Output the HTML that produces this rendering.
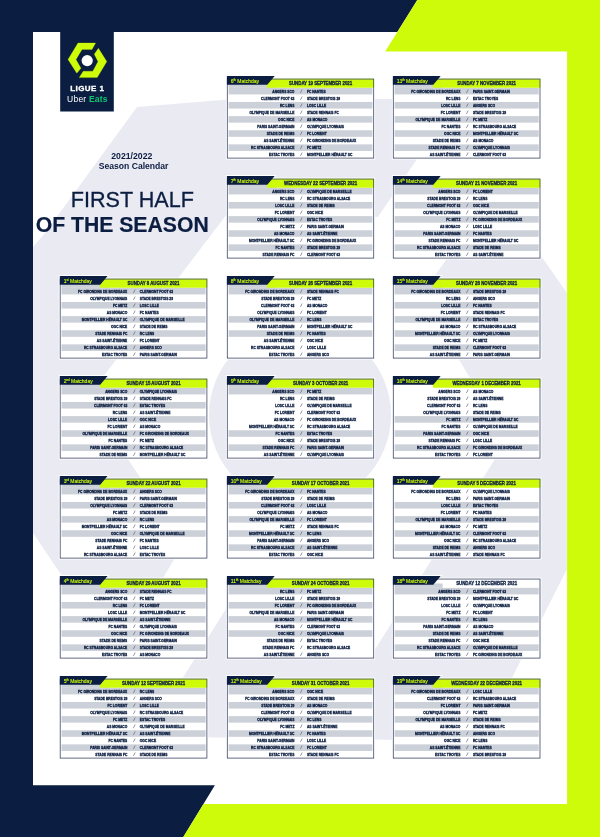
<!DOCTYPE html>
<html lang="en"><head><meta charset="utf-8"><title>Ligue 1 Uber Eats 2021/2022 Season Calendar - First half of the season</title>
<style>
html,body{margin:0;padding:0;background:#fff}
body{width:600px;height:837px;overflow:hidden}
svg{display:block}
text{font-family:"Liberation Sans",Arial,Helvetica,sans-serif}
.t{font-weight:bold;font-size:3.6px;fill:#0b1d40;stroke:#0b1d40;stroke-width:0.3px}
.s{font-size:4.6px;fill:#4d5977;stroke:#4d5977;stroke-width:0.15px;text-anchor:middle}
.d{font-weight:bold;font-size:4.7px;fill:#0b1d40;text-anchor:middle;stroke:#0b1d40;stroke-width:0.28px}
.m{font-size:5px;fill:#cefb0a;stroke:#cefb0a;stroke-width:0.12px}
.e{text-anchor:end}
.c{text-anchor:middle}
</style></head><body>
<svg width="600" height="837" viewBox="0 0 600 837">
<defs><clipPath id="panel"><rect x="32" y="31" width="535.1" height="773"/></clipPath></defs>
<rect width="600" height="837" fill="#fff"/>
<g clip-path="url(#panel)" fill="#eaeaf3">
<polygon points="137,107 225,99.7 383,99 457,99 415,162 378,217 227,214 87,398 184,543 116,656 58,570 33,533 -68,383 33,247 45,233"/>
<polygon points="494.5,189.3 648,409 480,741 146,736.5 229,604 371.5,655 507,440 421,296"/>
<circle cx="300" cy="415" r="91"/>
</g>
<polygon points="0,0 417.3,0 397.3,32.1 33,32.1 33,785.3 214.9,785.3 183.3,837 0,837" fill="#0b1d40"/>
<polygon points="417.3,0 600,0 600,837 183.3,837 203.5,804 567.1,804 567.1,51.5 385.2,51.5" fill="#cefb0a"/>
<rect x="60.2" y="31" width="53.6" height="80.5" fill="#0b1d40"/>
<polygon points="95.6,42.96 78,42.96 68,59.44 76.8,73.2 80.96,68.24 76,59.44 82,49.6 92,49.6" fill="#cefb0a" stroke="#cefb0a" stroke-width="0.25" stroke-linejoin="round"/>
<polygon points="98.4,48.24 106.8,61.6 97.2,77.6 79.2,77.6 83.2,71.2 92.8,71.2 98,61.6 94.24,54.24" fill="#cefb0a" stroke="#cefb0a" stroke-width="0.25" stroke-linejoin="round"/>
<circle cx="87.2" cy="60.6" r="5.6" fill="#fff"/>
<text x="87.3" y="91.4" class="c" style="font-weight:bold;font-size:8px;fill:#fff;stroke:#fff;stroke-width:0.3px;letter-spacing:0.4px">LIGUE 1</text>
<text x="87.4" y="102.1" class="c" style="font-size:8.5px;fill:#fff;letter-spacing:0.2px">Uber <tspan style="font-weight:bold;fill:#10c76f">Eats</tspan></text>
<text x="131.8" y="158.8" class="c" style="font-weight:bold;font-size:8.7px;fill:#0b1d40">2021/2022</text>
<text x="133.6" y="168.9" class="c" style="font-weight:bold;font-size:8.6px;fill:#0b1d40">Season Calendar</text>
<text x="132.3" y="207.2" class="c" style="font-size:21.6px;fill:#0b1d40;stroke:#0b1d40;stroke-width:0.3px">FIRST HALF</text>
<text x="122.2" y="231.6" class="c" style="font-weight:bold;font-size:21.2px;fill:#0b1d40;stroke:#0b1d40;stroke-width:0.2px">OF THE SEASON</text>
<g transform="translate(59.8,276)">
<rect x="-1" y="1.65" width="149.5" height="81.85" fill="#fff"/>
<polygon points="-1,-1 49.6,-1 46,2.65 -1,2.65" fill="#fff"/>
<rect x="0" y="2.65" width="147.5" height="79.85" fill="#fff"/>
<rect x="1.7" y="7.5" width="48" height="4.35" fill="#ccd0d8"/>
<rect x="1.7" y="11.85" width="144.1" height="6.57" fill="#ccd0d8"/>
<rect x="1.7" y="25.98" width="144.1" height="6.57" fill="#ccd0d8"/>
<rect x="1.7" y="40.11" width="144.1" height="6.57" fill="#ccd0d8"/>
<rect x="1.7" y="54.24" width="144.1" height="6.57" fill="#ccd0d8"/>
<rect x="1.7" y="68.37" width="144.1" height="6.57" fill="#ccd0d8"/>
<polygon points="40,2.65 147.5,2.65 147.5,11.85 40,11.85" fill="#cefb0a"/>
<rect x="0.4" y="3.05" width="146.7" height="79.05" fill="none" stroke="#3c4966" stroke-width="0.8"/>
<polygon points="0,0 47.8,0 40.4,8.7 0,8.7" fill="#0b1d40"/>
<text x="3.9" y="6.5" class="m">1<tspan dy="-1.6" style="font-size:2.8px">st</tspan><tspan dy="1.6"> Matchday</tspan></text>
<text transform="translate(93.7,9.15) scale(0.93,1)" class="d">SUNDAY 8 AUGUST 2021</text>
<text transform="translate(67.5,16.78) scale(0.92,1)" class="t e">FC GIRONDINS DE BORDEAUX</text>
<text transform="translate(74,16.78) skewX(-14)" class="s">/</text>
<text transform="translate(80,16.78) scale(0.92,1)" class="t">CLERMONT FOOT 63</text>
<text transform="translate(67.5,23.85) scale(0.92,1)" class="t e">OLYMPIQUE LYONNAIS</text>
<text transform="translate(74,23.85) skewX(-14)" class="s">/</text>
<text transform="translate(80,23.85) scale(0.92,1)" class="t">STADE BRESTOIS 29</text>
<text transform="translate(67.5,30.91) scale(0.92,1)" class="t e">FC METZ</text>
<text transform="translate(74,30.91) skewX(-14)" class="s">/</text>
<text transform="translate(80,30.91) scale(0.92,1)" class="t">LOSC LILLE</text>
<text transform="translate(67.5,37.98) scale(0.92,1)" class="t e">AS MONACO</text>
<text transform="translate(74,37.98) skewX(-14)" class="s">/</text>
<text transform="translate(80,37.98) scale(0.92,1)" class="t">FC NANTES</text>
<text transform="translate(67.5,45.04) scale(0.92,1)" class="t e">MONTPELLIER HÉRAULT SC</text>
<text transform="translate(74,45.04) skewX(-14)" class="s">/</text>
<text transform="translate(80,45.04) scale(0.92,1)" class="t">OLYMPIQUE DE MARSEILLE</text>
<text transform="translate(67.5,52.11) scale(0.92,1)" class="t e">OGC NICE</text>
<text transform="translate(74,52.11) skewX(-14)" class="s">/</text>
<text transform="translate(80,52.11) scale(0.92,1)" class="t">STADE DE REIMS</text>
<text transform="translate(67.5,59.17) scale(0.92,1)" class="t e">STADE RENNAIS FC</text>
<text transform="translate(74,59.17) skewX(-14)" class="s">/</text>
<text transform="translate(80,59.17) scale(0.92,1)" class="t">RC LENS</text>
<text transform="translate(67.5,66.24) scale(0.92,1)" class="t e">AS SAINT-ÉTIENNE</text>
<text transform="translate(74,66.24) skewX(-14)" class="s">/</text>
<text transform="translate(80,66.24) scale(0.92,1)" class="t">FC LORIENT</text>
<text transform="translate(67.5,73.3) scale(0.92,1)" class="t e">RC STRASBOURG ALSACE</text>
<text transform="translate(74,73.3) skewX(-14)" class="s">/</text>
<text transform="translate(80,73.3) scale(0.92,1)" class="t">ANGERS SCO</text>
<text transform="translate(67.5,80.37) scale(0.92,1)" class="t e">ESTAC TROYES</text>
<text transform="translate(74,80.37) skewX(-14)" class="s">/</text>
<text transform="translate(80,80.37) scale(0.92,1)" class="t">PARIS SAINT-GERMAIN</text>
</g>
<g transform="translate(59.8,376)">
<rect x="-1" y="1.65" width="149.5" height="81.85" fill="#fff"/>
<polygon points="-1,-1 49.6,-1 46,2.65 -1,2.65" fill="#fff"/>
<rect x="0" y="2.65" width="147.5" height="79.85" fill="#fff"/>
<rect x="1.7" y="7.5" width="48" height="4.35" fill="#ccd0d8"/>
<rect x="1.7" y="11.85" width="144.1" height="6.57" fill="#ccd0d8"/>
<rect x="1.7" y="25.98" width="144.1" height="6.57" fill="#ccd0d8"/>
<rect x="1.7" y="40.11" width="144.1" height="6.57" fill="#ccd0d8"/>
<rect x="1.7" y="54.24" width="144.1" height="6.57" fill="#ccd0d8"/>
<rect x="1.7" y="68.37" width="144.1" height="6.57" fill="#ccd0d8"/>
<polygon points="40,2.65 147.5,2.65 147.5,11.85 40,11.85" fill="#cefb0a"/>
<rect x="0.4" y="3.05" width="146.7" height="79.05" fill="none" stroke="#3c4966" stroke-width="0.8"/>
<polygon points="0,0 47.8,0 40.4,8.7 0,8.7" fill="#0b1d40"/>
<text x="3.9" y="6.5" class="m">2<tspan dy="-1.6" style="font-size:2.8px">nd</tspan><tspan dy="1.6"> Matchday</tspan></text>
<text transform="translate(93.7,9.15) scale(0.93,1)" class="d">SUNDAY 15 AUGUST 2021</text>
<text transform="translate(67.5,16.78) scale(0.92,1)" class="t e">ANGERS SCO</text>
<text transform="translate(74,16.78) skewX(-14)" class="s">/</text>
<text transform="translate(80,16.78) scale(0.92,1)" class="t">OLYMPIQUE LYONNAIS</text>
<text transform="translate(67.5,23.85) scale(0.92,1)" class="t e">STADE BRESTOIS 29</text>
<text transform="translate(74,23.85) skewX(-14)" class="s">/</text>
<text transform="translate(80,23.85) scale(0.92,1)" class="t">STADE RENNAIS FC</text>
<text transform="translate(67.5,30.91) scale(0.92,1)" class="t e">CLERMONT FOOT 63</text>
<text transform="translate(74,30.91) skewX(-14)" class="s">/</text>
<text transform="translate(80,30.91) scale(0.92,1)" class="t">ESTAC TROYES</text>
<text transform="translate(67.5,37.98) scale(0.92,1)" class="t e">RC LENS</text>
<text transform="translate(74,37.98) skewX(-14)" class="s">/</text>
<text transform="translate(80,37.98) scale(0.92,1)" class="t">AS SAINT-ÉTIENNE</text>
<text transform="translate(67.5,45.04) scale(0.92,1)" class="t e">LOSC LILLE</text>
<text transform="translate(74,45.04) skewX(-14)" class="s">/</text>
<text transform="translate(80,45.04) scale(0.92,1)" class="t">OGC NICE</text>
<text transform="translate(67.5,52.11) scale(0.92,1)" class="t e">FC LORIENT</text>
<text transform="translate(74,52.11) skewX(-14)" class="s">/</text>
<text transform="translate(80,52.11) scale(0.92,1)" class="t">AS MONACO</text>
<text transform="translate(67.5,59.17) scale(0.92,1)" class="t e">OLYMPIQUE DE MARSEILLE</text>
<text transform="translate(74,59.17) skewX(-14)" class="s">/</text>
<text transform="translate(80,59.17) scale(0.92,1)" class="t">FC GIRONDINS DE BORDEAUX</text>
<text transform="translate(67.5,66.24) scale(0.92,1)" class="t e">FC NANTES</text>
<text transform="translate(74,66.24) skewX(-14)" class="s">/</text>
<text transform="translate(80,66.24) scale(0.92,1)" class="t">FC METZ</text>
<text transform="translate(67.5,73.3) scale(0.92,1)" class="t e">PARIS SAINT-GERMAIN</text>
<text transform="translate(74,73.3) skewX(-14)" class="s">/</text>
<text transform="translate(80,73.3) scale(0.92,1)" class="t">RC STRASBOURG ALSACE</text>
<text transform="translate(67.5,80.37) scale(0.92,1)" class="t e">STADE DE REIMS</text>
<text transform="translate(74,80.37) skewX(-14)" class="s">/</text>
<text transform="translate(80,80.37) scale(0.92,1)" class="t">MONTPELLIER HÉRAULT SC</text>
</g>
<g transform="translate(59.8,476)">
<rect x="-1" y="1.65" width="149.5" height="81.85" fill="#fff"/>
<polygon points="-1,-1 49.6,-1 46,2.65 -1,2.65" fill="#fff"/>
<rect x="0" y="2.65" width="147.5" height="79.85" fill="#fff"/>
<rect x="1.7" y="7.5" width="48" height="4.35" fill="#ccd0d8"/>
<rect x="1.7" y="11.85" width="144.1" height="6.57" fill="#ccd0d8"/>
<rect x="1.7" y="25.98" width="144.1" height="6.57" fill="#ccd0d8"/>
<rect x="1.7" y="40.11" width="144.1" height="6.57" fill="#ccd0d8"/>
<rect x="1.7" y="54.24" width="144.1" height="6.57" fill="#ccd0d8"/>
<polygon points="40,2.65 147.5,2.65 147.5,11.85 40,11.85" fill="#cefb0a"/>
<rect x="0.4" y="3.05" width="146.7" height="79.05" fill="none" stroke="#3c4966" stroke-width="0.8"/>
<polygon points="0,0 47.8,0 40.4,8.7 0,8.7" fill="#0b1d40"/>
<text x="3.9" y="6.5" class="m">3<tspan dy="-1.6" style="font-size:2.8px">rd</tspan><tspan dy="1.6"> Matchday</tspan></text>
<text transform="translate(93.7,9.15) scale(0.93,1)" class="d">SUNDAY 22 AUGUST 2021</text>
<text transform="translate(67.5,16.78) scale(0.92,1)" class="t e">FC GIRONDINS DE BORDEAUX</text>
<text transform="translate(74,16.78) skewX(-14)" class="s">/</text>
<text transform="translate(80,16.78) scale(0.92,1)" class="t">ANGERS SCO</text>
<text transform="translate(67.5,23.85) scale(0.92,1)" class="t e">STADE BRESTOIS 29</text>
<text transform="translate(74,23.85) skewX(-14)" class="s">/</text>
<text transform="translate(80,23.85) scale(0.92,1)" class="t">PARIS SAINT-GERMAIN</text>
<text transform="translate(67.5,30.91) scale(0.92,1)" class="t e">OLYMPIQUE LYONNAIS</text>
<text transform="translate(74,30.91) skewX(-14)" class="s">/</text>
<text transform="translate(80,30.91) scale(0.92,1)" class="t">CLERMONT FOOT 63</text>
<text transform="translate(67.5,37.98) scale(0.92,1)" class="t e">FC METZ</text>
<text transform="translate(74,37.98) skewX(-14)" class="s">/</text>
<text transform="translate(80,37.98) scale(0.92,1)" class="t">STADE DE REIMS</text>
<text transform="translate(67.5,45.04) scale(0.92,1)" class="t e">AS MONACO</text>
<text transform="translate(74,45.04) skewX(-14)" class="s">/</text>
<text transform="translate(80,45.04) scale(0.92,1)" class="t">RC LENS</text>
<text transform="translate(67.5,52.11) scale(0.92,1)" class="t e">MONTPELLIER HÉRAULT SC</text>
<text transform="translate(74,52.11) skewX(-14)" class="s">/</text>
<text transform="translate(80,52.11) scale(0.92,1)" class="t">FC LORIENT</text>
<text transform="translate(67.5,59.17) scale(0.92,1)" class="t e">OGC NICE</text>
<text transform="translate(74,59.17) skewX(-14)" class="s">/</text>
<text transform="translate(80,59.17) scale(0.92,1)" class="t">OLYMPIQUE DE MARSEILLE</text>
<text transform="translate(67.5,66.24) scale(0.92,1)" class="t e">STADE RENNAIS FC</text>
<text transform="translate(74,66.24) skewX(-14)" class="s">/</text>
<text transform="translate(80,66.24) scale(0.92,1)" class="t">FC NANTES</text>
<text transform="translate(67.5,73.3) scale(0.92,1)" class="t e">AS SAINT-ÉTIENNE</text>
<text transform="translate(74,73.3) skewX(-14)" class="s">/</text>
<text transform="translate(80,73.3) scale(0.92,1)" class="t">LOSC LILLE</text>
<text transform="translate(67.5,80.37) scale(0.92,1)" class="t e">RC STRASBOURG ALSACE</text>
<text transform="translate(74,80.37) skewX(-14)" class="s">/</text>
<text transform="translate(80,80.37) scale(0.92,1)" class="t">ESTAC TROYES</text>
</g>
<g transform="translate(59.8,576)">
<rect x="-1" y="1.65" width="149.5" height="81.85" fill="#fff"/>
<polygon points="-1,-1 49.6,-1 46,2.65 -1,2.65" fill="#fff"/>
<rect x="0" y="2.65" width="147.5" height="79.85" fill="#fff"/>
<rect x="1.7" y="7.5" width="48" height="4.35" fill="#ccd0d8"/>
<rect x="1.7" y="11.85" width="144.1" height="6.57" fill="#ccd0d8"/>
<rect x="1.7" y="25.98" width="144.1" height="6.57" fill="#ccd0d8"/>
<rect x="1.7" y="40.11" width="144.1" height="6.57" fill="#ccd0d8"/>
<rect x="1.7" y="54.24" width="144.1" height="6.57" fill="#ccd0d8"/>
<rect x="1.7" y="68.37" width="144.1" height="6.57" fill="#ccd0d8"/>
<polygon points="40,2.65 147.5,2.65 147.5,11.85 40,11.85" fill="#cefb0a"/>
<rect x="0.4" y="3.05" width="146.7" height="79.05" fill="none" stroke="#3c4966" stroke-width="0.8"/>
<polygon points="0,0 47.8,0 40.4,8.7 0,8.7" fill="#0b1d40"/>
<text x="3.9" y="6.5" class="m">4<tspan dy="-1.6" style="font-size:2.8px">th</tspan><tspan dy="1.6"> Matchday</tspan></text>
<text transform="translate(93.7,9.15) scale(0.93,1)" class="d">SUNDAY 29 AUGUST 2021</text>
<text transform="translate(67.5,16.78) scale(0.92,1)" class="t e">ANGERS SCO</text>
<text transform="translate(74,16.78) skewX(-14)" class="s">/</text>
<text transform="translate(80,16.78) scale(0.92,1)" class="t">STADE RENNAIS FC</text>
<text transform="translate(67.5,23.85) scale(0.92,1)" class="t e">CLERMONT FOOT 63</text>
<text transform="translate(74,23.85) skewX(-14)" class="s">/</text>
<text transform="translate(80,23.85) scale(0.92,1)" class="t">FC METZ</text>
<text transform="translate(67.5,30.91) scale(0.92,1)" class="t e">RC LENS</text>
<text transform="translate(74,30.91) skewX(-14)" class="s">/</text>
<text transform="translate(80,30.91) scale(0.92,1)" class="t">FC LORIENT</text>
<text transform="translate(67.5,37.98) scale(0.92,1)" class="t e">LOSC LILLE</text>
<text transform="translate(74,37.98) skewX(-14)" class="s">/</text>
<text transform="translate(80,37.98) scale(0.92,1)" class="t">MONTPELLIER HÉRAULT SC</text>
<text transform="translate(67.5,45.04) scale(0.92,1)" class="t e">OLYMPIQUE DE MARSEILLE</text>
<text transform="translate(74,45.04) skewX(-14)" class="s">/</text>
<text transform="translate(80,45.04) scale(0.92,1)" class="t">AS SAINT-ÉTIENNE</text>
<text transform="translate(67.5,52.11) scale(0.92,1)" class="t e">FC NANTES</text>
<text transform="translate(74,52.11) skewX(-14)" class="s">/</text>
<text transform="translate(80,52.11) scale(0.92,1)" class="t">OLYMPIQUE LYONNAIS</text>
<text transform="translate(67.5,59.17) scale(0.92,1)" class="t e">OGC NICE</text>
<text transform="translate(74,59.17) skewX(-14)" class="s">/</text>
<text transform="translate(80,59.17) scale(0.92,1)" class="t">FC GIRONDINS DE BORDEAUX</text>
<text transform="translate(67.5,66.24) scale(0.92,1)" class="t e">STADE DE REIMS</text>
<text transform="translate(74,66.24) skewX(-14)" class="s">/</text>
<text transform="translate(80,66.24) scale(0.92,1)" class="t">PARIS SAINT-GERMAIN</text>
<text transform="translate(67.5,73.3) scale(0.92,1)" class="t e">RC STRASBOURG ALSACE</text>
<text transform="translate(74,73.3) skewX(-14)" class="s">/</text>
<text transform="translate(80,73.3) scale(0.92,1)" class="t">STADE BRESTOIS 29</text>
<text transform="translate(67.5,80.37) scale(0.92,1)" class="t e">ESTAC TROYES</text>
<text transform="translate(74,80.37) skewX(-14)" class="s">/</text>
<text transform="translate(80,80.37) scale(0.92,1)" class="t">AS MONACO</text>
</g>
<g transform="translate(59.8,676)">
<rect x="-1" y="1.65" width="149.5" height="81.85" fill="#fff"/>
<polygon points="-1,-1 49.6,-1 46,2.65 -1,2.65" fill="#fff"/>
<rect x="0" y="2.65" width="147.5" height="79.85" fill="#fff"/>
<rect x="1.7" y="7.5" width="48" height="4.35" fill="#ccd0d8"/>
<rect x="1.7" y="11.85" width="144.1" height="6.57" fill="#ccd0d8"/>
<rect x="1.7" y="25.98" width="144.1" height="6.57" fill="#ccd0d8"/>
<rect x="1.7" y="40.11" width="144.1" height="6.57" fill="#ccd0d8"/>
<rect x="1.7" y="54.24" width="144.1" height="6.57" fill="#ccd0d8"/>
<rect x="1.7" y="68.37" width="144.1" height="6.57" fill="#ccd0d8"/>
<polygon points="40,2.65 147.5,2.65 147.5,11.85 40,11.85" fill="#cefb0a"/>
<rect x="0.4" y="3.05" width="146.7" height="79.05" fill="none" stroke="#3c4966" stroke-width="0.8"/>
<polygon points="0,0 47.8,0 40.4,8.7 0,8.7" fill="#0b1d40"/>
<text x="3.9" y="6.5" class="m">5<tspan dy="-1.6" style="font-size:2.8px">th</tspan><tspan dy="1.6"> Matchday</tspan></text>
<text transform="translate(93.7,9.15) scale(0.93,1)" class="d">SUNDAY 12 SEPTEMBER 2021</text>
<text transform="translate(67.5,16.78) scale(0.92,1)" class="t e">FC GIRONDINS DE BORDEAUX</text>
<text transform="translate(74,16.78) skewX(-14)" class="s">/</text>
<text transform="translate(80,16.78) scale(0.92,1)" class="t">RC LENS</text>
<text transform="translate(67.5,23.85) scale(0.92,1)" class="t e">STADE BRESTOIS 29</text>
<text transform="translate(74,23.85) skewX(-14)" class="s">/</text>
<text transform="translate(80,23.85) scale(0.92,1)" class="t">ANGERS SCO</text>
<text transform="translate(67.5,30.91) scale(0.92,1)" class="t e">FC LORIENT</text>
<text transform="translate(74,30.91) skewX(-14)" class="s">/</text>
<text transform="translate(80,30.91) scale(0.92,1)" class="t">LOSC LILLE</text>
<text transform="translate(67.5,37.98) scale(0.92,1)" class="t e">OLYMPIQUE LYONNAIS</text>
<text transform="translate(74,37.98) skewX(-14)" class="s">/</text>
<text transform="translate(80,37.98) scale(0.92,1)" class="t">RC STRASBOURG ALSACE</text>
<text transform="translate(67.5,45.04) scale(0.92,1)" class="t e">FC METZ</text>
<text transform="translate(74,45.04) skewX(-14)" class="s">/</text>
<text transform="translate(80,45.04) scale(0.92,1)" class="t">ESTAC TROYES</text>
<text transform="translate(67.5,52.11) scale(0.92,1)" class="t e">AS MONACO</text>
<text transform="translate(74,52.11) skewX(-14)" class="s">/</text>
<text transform="translate(80,52.11) scale(0.92,1)" class="t">OLYMPIQUE DE MARSEILLE</text>
<text transform="translate(67.5,59.17) scale(0.92,1)" class="t e">MONTPELLIER HÉRAULT SC</text>
<text transform="translate(74,59.17) skewX(-14)" class="s">/</text>
<text transform="translate(80,59.17) scale(0.92,1)" class="t">AS SAINT-ÉTIENNE</text>
<text transform="translate(67.5,66.24) scale(0.92,1)" class="t e">FC NANTES</text>
<text transform="translate(74,66.24) skewX(-14)" class="s">/</text>
<text transform="translate(80,66.24) scale(0.92,1)" class="t">OGC NICE</text>
<text transform="translate(67.5,73.3) scale(0.92,1)" class="t e">PARIS SAINT-GERMAIN</text>
<text transform="translate(74,73.3) skewX(-14)" class="s">/</text>
<text transform="translate(80,73.3) scale(0.92,1)" class="t">CLERMONT FOOT 63</text>
<text transform="translate(67.5,80.37) scale(0.92,1)" class="t e">STADE RENNAIS FC</text>
<text transform="translate(74,80.37) skewX(-14)" class="s">/</text>
<text transform="translate(80,80.37) scale(0.92,1)" class="t">STADE DE REIMS</text>
</g>
<g transform="translate(226.9,76)">
<rect x="-1" y="1.65" width="149.2" height="81.85" fill="#fff"/>
<polygon points="-1,-1 49.6,-1 46,2.65 -1,2.65" fill="#fff"/>
<rect x="0" y="2.65" width="147.2" height="79.85" fill="#fff"/>
<rect x="1.7" y="7.5" width="48" height="4.35" fill="#ccd0d8"/>
<rect x="1.7" y="11.85" width="143.8" height="6.57" fill="#ccd0d8"/>
<rect x="1.7" y="25.98" width="143.8" height="6.57" fill="#ccd0d8"/>
<rect x="1.7" y="40.11" width="143.8" height="6.57" fill="#ccd0d8"/>
<rect x="1.7" y="54.24" width="143.8" height="6.57" fill="#ccd0d8"/>
<rect x="1.7" y="68.37" width="143.8" height="6.57" fill="#ccd0d8"/>
<polygon points="40,2.65 147.2,2.65 147.2,11.85 40,11.85" fill="#cefb0a"/>
<rect x="0.4" y="3.05" width="146.4" height="79.05" fill="none" stroke="#3c4966" stroke-width="0.8"/>
<polygon points="0,0 47.8,0 40.4,8.7 0,8.7" fill="#0b1d40"/>
<text x="3.9" y="6.5" class="m">6<tspan dy="-1.6" style="font-size:2.8px">th</tspan><tspan dy="1.6"> Matchday</tspan></text>
<text transform="translate(93.7,9.15) scale(0.93,1)" class="d">SUNDAY 19 SEPTEMBER 2021</text>
<text transform="translate(67.5,16.78) scale(0.92,1)" class="t e">ANGERS SCO</text>
<text transform="translate(74,16.78) skewX(-14)" class="s">/</text>
<text transform="translate(80,16.78) scale(0.92,1)" class="t">FC NANTES</text>
<text transform="translate(67.5,23.85) scale(0.92,1)" class="t e">CLERMONT FOOT 63</text>
<text transform="translate(74,23.85) skewX(-14)" class="s">/</text>
<text transform="translate(80,23.85) scale(0.92,1)" class="t">STADE BRESTOIS 29</text>
<text transform="translate(67.5,30.91) scale(0.92,1)" class="t e">RC LENS</text>
<text transform="translate(74,30.91) skewX(-14)" class="s">/</text>
<text transform="translate(80,30.91) scale(0.92,1)" class="t">LOSC LILLE</text>
<text transform="translate(67.5,37.98) scale(0.92,1)" class="t e">OLYMPIQUE DE MARSEILLE</text>
<text transform="translate(74,37.98) skewX(-14)" class="s">/</text>
<text transform="translate(80,37.98) scale(0.92,1)" class="t">STADE RENNAIS FC</text>
<text transform="translate(67.5,45.04) scale(0.92,1)" class="t e">OGC NICE</text>
<text transform="translate(74,45.04) skewX(-14)" class="s">/</text>
<text transform="translate(80,45.04) scale(0.92,1)" class="t">AS MONACO</text>
<text transform="translate(67.5,52.11) scale(0.92,1)" class="t e">PARIS SAINT-GERMAIN</text>
<text transform="translate(74,52.11) skewX(-14)" class="s">/</text>
<text transform="translate(80,52.11) scale(0.92,1)" class="t">OLYMPIQUE LYONNAIS</text>
<text transform="translate(67.5,59.17) scale(0.92,1)" class="t e">STADE DE REIMS</text>
<text transform="translate(74,59.17) skewX(-14)" class="s">/</text>
<text transform="translate(80,59.17) scale(0.92,1)" class="t">FC LORIENT</text>
<text transform="translate(67.5,66.24) scale(0.92,1)" class="t e">AS SAINT-ÉTIENNE</text>
<text transform="translate(74,66.24) skewX(-14)" class="s">/</text>
<text transform="translate(80,66.24) scale(0.92,1)" class="t">FC GIRONDINS DE BORDEAUX</text>
<text transform="translate(67.5,73.3) scale(0.92,1)" class="t e">RC STRASBOURG ALSACE</text>
<text transform="translate(74,73.3) skewX(-14)" class="s">/</text>
<text transform="translate(80,73.3) scale(0.92,1)" class="t">FC METZ</text>
<text transform="translate(67.5,80.37) scale(0.92,1)" class="t e">ESTAC TROYES</text>
<text transform="translate(74,80.37) skewX(-14)" class="s">/</text>
<text transform="translate(80,80.37) scale(0.92,1)" class="t">MONTPELLIER HÉRAULT SC</text>
</g>
<g transform="translate(226.9,176)">
<rect x="-1" y="1.65" width="149.2" height="81.85" fill="#fff"/>
<polygon points="-1,-1 49.6,-1 46,2.65 -1,2.65" fill="#fff"/>
<rect x="0" y="2.65" width="147.2" height="79.85" fill="#fff"/>
<rect x="1.7" y="7.5" width="48" height="4.35" fill="#ccd0d8"/>
<rect x="1.7" y="11.85" width="143.8" height="6.57" fill="#ccd0d8"/>
<rect x="1.7" y="25.98" width="143.8" height="6.57" fill="#ccd0d8"/>
<rect x="1.7" y="40.11" width="143.8" height="6.57" fill="#ccd0d8"/>
<rect x="1.7" y="54.24" width="143.8" height="6.57" fill="#ccd0d8"/>
<rect x="1.7" y="68.37" width="143.8" height="6.57" fill="#ccd0d8"/>
<polygon points="40,2.65 147.2,2.65 147.2,11.85 40,11.85" fill="#cefb0a"/>
<rect x="0.4" y="3.05" width="146.4" height="79.05" fill="none" stroke="#3c4966" stroke-width="0.8"/>
<polygon points="0,0 47.8,0 40.4,8.7 0,8.7" fill="#0b1d40"/>
<text x="3.9" y="6.5" class="m">7<tspan dy="-1.6" style="font-size:2.8px">th</tspan><tspan dy="1.6"> Matchday</tspan></text>
<text transform="translate(93.7,9.15) scale(0.93,1)" class="d">WEDNESDAY 22 SEPTEMBER 2021</text>
<text transform="translate(67.5,16.78) scale(0.92,1)" class="t e">ANGERS SCO</text>
<text transform="translate(74,16.78) skewX(-14)" class="s">/</text>
<text transform="translate(80,16.78) scale(0.92,1)" class="t">OLYMPIQUE DE MARSEILLE</text>
<text transform="translate(67.5,23.85) scale(0.92,1)" class="t e">RC LENS</text>
<text transform="translate(74,23.85) skewX(-14)" class="s">/</text>
<text transform="translate(80,23.85) scale(0.92,1)" class="t">RC STRASBOURG ALSACE</text>
<text transform="translate(67.5,30.91) scale(0.92,1)" class="t e">LOSC LILLE</text>
<text transform="translate(74,30.91) skewX(-14)" class="s">/</text>
<text transform="translate(80,30.91) scale(0.92,1)" class="t">STADE DE REIMS</text>
<text transform="translate(67.5,37.98) scale(0.92,1)" class="t e">FC LORIENT</text>
<text transform="translate(74,37.98) skewX(-14)" class="s">/</text>
<text transform="translate(80,37.98) scale(0.92,1)" class="t">OGC NICE</text>
<text transform="translate(67.5,45.04) scale(0.92,1)" class="t e">OLYMPIQUE LYONNAIS</text>
<text transform="translate(74,45.04) skewX(-14)" class="s">/</text>
<text transform="translate(80,45.04) scale(0.92,1)" class="t">ESTAC TROYES</text>
<text transform="translate(67.5,52.11) scale(0.92,1)" class="t e">FC METZ</text>
<text transform="translate(74,52.11) skewX(-14)" class="s">/</text>
<text transform="translate(80,52.11) scale(0.92,1)" class="t">PARIS SAINT-GERMAIN</text>
<text transform="translate(67.5,59.17) scale(0.92,1)" class="t e">AS MONACO</text>
<text transform="translate(74,59.17) skewX(-14)" class="s">/</text>
<text transform="translate(80,59.17) scale(0.92,1)" class="t">AS SAINT-ÉTIENNE</text>
<text transform="translate(67.5,66.24) scale(0.92,1)" class="t e">MONTPELLIER HÉRAULT SC</text>
<text transform="translate(74,66.24) skewX(-14)" class="s">/</text>
<text transform="translate(80,66.24) scale(0.92,1)" class="t">FC GIRONDINS DE BORDEAUX</text>
<text transform="translate(67.5,73.3) scale(0.92,1)" class="t e">FC NANTES</text>
<text transform="translate(74,73.3) skewX(-14)" class="s">/</text>
<text transform="translate(80,73.3) scale(0.92,1)" class="t">STADE BRESTOIS 29</text>
<text transform="translate(67.5,80.37) scale(0.92,1)" class="t e">STADE RENNAIS FC</text>
<text transform="translate(74,80.37) skewX(-14)" class="s">/</text>
<text transform="translate(80,80.37) scale(0.92,1)" class="t">CLERMONT FOOT 63</text>
</g>
<g transform="translate(226.9,276)">
<rect x="-1" y="1.65" width="149.2" height="81.85" fill="#fff"/>
<polygon points="-1,-1 49.6,-1 46,2.65 -1,2.65" fill="#fff"/>
<rect x="0" y="2.65" width="147.2" height="79.85" fill="#fff"/>
<rect x="1.7" y="7.5" width="48" height="4.35" fill="#ccd0d8"/>
<rect x="1.7" y="11.85" width="143.8" height="6.57" fill="#ccd0d8"/>
<rect x="1.7" y="40.11" width="143.8" height="6.57" fill="#ccd0d8"/>
<rect x="1.7" y="54.24" width="143.8" height="6.57" fill="#ccd0d8"/>
<polygon points="40,2.65 147.2,2.65 147.2,11.85 40,11.85" fill="#cefb0a"/>
<rect x="0.4" y="3.05" width="146.4" height="79.05" fill="none" stroke="#3c4966" stroke-width="0.8"/>
<polygon points="0,0 47.8,0 40.4,8.7 0,8.7" fill="#0b1d40"/>
<text x="3.9" y="6.5" class="m">8<tspan dy="-1.6" style="font-size:2.8px">th</tspan><tspan dy="1.6"> Matchday</tspan></text>
<text transform="translate(93.7,9.15) scale(0.93,1)" class="d">SUNDAY 26 SEPTEMBER 2021</text>
<text transform="translate(67.5,16.78) scale(0.92,1)" class="t e">FC GIRONDINS DE BORDEAUX</text>
<text transform="translate(74,16.78) skewX(-14)" class="s">/</text>
<text transform="translate(80,16.78) scale(0.92,1)" class="t">STADE RENNAIS FC</text>
<text transform="translate(67.5,23.85) scale(0.92,1)" class="t e">STADE BRESTOIS 29</text>
<text transform="translate(74,23.85) skewX(-14)" class="s">/</text>
<text transform="translate(80,23.85) scale(0.92,1)" class="t">FC METZ</text>
<text transform="translate(67.5,30.91) scale(0.92,1)" class="t e">CLERMONT FOOT 63</text>
<text transform="translate(74,30.91) skewX(-14)" class="s">/</text>
<text transform="translate(80,30.91) scale(0.92,1)" class="t">AS MONACO</text>
<text transform="translate(67.5,37.98) scale(0.92,1)" class="t e">OLYMPIQUE LYONNAIS</text>
<text transform="translate(74,37.98) skewX(-14)" class="s">/</text>
<text transform="translate(80,37.98) scale(0.92,1)" class="t">FC LORIENT</text>
<text transform="translate(67.5,45.04) scale(0.92,1)" class="t e">OLYMPIQUE DE MARSEILLE</text>
<text transform="translate(74,45.04) skewX(-14)" class="s">/</text>
<text transform="translate(80,45.04) scale(0.92,1)" class="t">RC LENS</text>
<text transform="translate(67.5,52.11) scale(0.92,1)" class="t e">PARIS SAINT-GERMAIN</text>
<text transform="translate(74,52.11) skewX(-14)" class="s">/</text>
<text transform="translate(80,52.11) scale(0.92,1)" class="t">MONTPELLIER HÉRAULT SC</text>
<text transform="translate(67.5,59.17) scale(0.92,1)" class="t e">STADE DE REIMS</text>
<text transform="translate(74,59.17) skewX(-14)" class="s">/</text>
<text transform="translate(80,59.17) scale(0.92,1)" class="t">FC NANTES</text>
<text transform="translate(67.5,66.24) scale(0.92,1)" class="t e">AS SAINT-ÉTIENNE</text>
<text transform="translate(74,66.24) skewX(-14)" class="s">/</text>
<text transform="translate(80,66.24) scale(0.92,1)" class="t">OGC NICE</text>
<text transform="translate(67.5,73.3) scale(0.92,1)" class="t e">RC STRASBOURG ALSACE</text>
<text transform="translate(74,73.3) skewX(-14)" class="s">/</text>
<text transform="translate(80,73.3) scale(0.92,1)" class="t">LOSC LILLE</text>
<text transform="translate(67.5,80.37) scale(0.92,1)" class="t e">ESTAC TROYES</text>
<text transform="translate(74,80.37) skewX(-14)" class="s">/</text>
<text transform="translate(80,80.37) scale(0.92,1)" class="t">ANGERS SCO</text>
</g>
<g transform="translate(226.9,376)">
<rect x="-1" y="1.65" width="149.2" height="81.85" fill="#fff"/>
<polygon points="-1,-1 49.6,-1 46,2.65 -1,2.65" fill="#fff"/>
<rect x="0" y="2.65" width="147.2" height="79.85" fill="#fff"/>
<rect x="1.7" y="7.5" width="48" height="4.35" fill="#ccd0d8"/>
<rect x="1.7" y="11.85" width="143.8" height="6.57" fill="#ccd0d8"/>
<rect x="1.7" y="54.24" width="143.8" height="6.57" fill="#ccd0d8"/>
<rect x="1.7" y="68.37" width="143.8" height="6.57" fill="#ccd0d8"/>
<polygon points="40,2.65 147.2,2.65 147.2,11.85 40,11.85" fill="#cefb0a"/>
<rect x="0.4" y="3.05" width="146.4" height="79.05" fill="none" stroke="#3c4966" stroke-width="0.8"/>
<polygon points="0,0 47.8,0 40.4,8.7 0,8.7" fill="#0b1d40"/>
<text x="3.9" y="6.5" class="m">9<tspan dy="-1.6" style="font-size:2.8px">th</tspan><tspan dy="1.6"> Matchday</tspan></text>
<text transform="translate(93.7,9.15) scale(0.93,1)" class="d">SUNDAY 3 OCTOBER 2021</text>
<text transform="translate(67.5,16.78) scale(0.92,1)" class="t e">ANGERS SCO</text>
<text transform="translate(74,16.78) skewX(-14)" class="s">/</text>
<text transform="translate(80,16.78) scale(0.92,1)" class="t">FC METZ</text>
<text transform="translate(67.5,23.85) scale(0.92,1)" class="t e">RC LENS</text>
<text transform="translate(74,23.85) skewX(-14)" class="s">/</text>
<text transform="translate(80,23.85) scale(0.92,1)" class="t">STADE DE REIMS</text>
<text transform="translate(67.5,30.91) scale(0.92,1)" class="t e">LOSC LILLE</text>
<text transform="translate(74,30.91) skewX(-14)" class="s">/</text>
<text transform="translate(80,30.91) scale(0.92,1)" class="t">OLYMPIQUE DE MARSEILLE</text>
<text transform="translate(67.5,37.98) scale(0.92,1)" class="t e">FC LORIENT</text>
<text transform="translate(74,37.98) skewX(-14)" class="s">/</text>
<text transform="translate(80,37.98) scale(0.92,1)" class="t">CLERMONT FOOT 63</text>
<text transform="translate(67.5,45.04) scale(0.92,1)" class="t e">AS MONACO</text>
<text transform="translate(74,45.04) skewX(-14)" class="s">/</text>
<text transform="translate(80,45.04) scale(0.92,1)" class="t">FC GIRONDINS DE BORDEAUX</text>
<text transform="translate(67.5,52.11) scale(0.92,1)" class="t e">MONTPELLIER HÉRAULT SC</text>
<text transform="translate(74,52.11) skewX(-14)" class="s">/</text>
<text transform="translate(80,52.11) scale(0.92,1)" class="t">RC STRASBOURG ALSACE</text>
<text transform="translate(67.5,59.17) scale(0.92,1)" class="t e">FC NANTES</text>
<text transform="translate(74,59.17) skewX(-14)" class="s">/</text>
<text transform="translate(80,59.17) scale(0.92,1)" class="t">ESTAC TROYES</text>
<text transform="translate(67.5,66.24) scale(0.92,1)" class="t e">OGC NICE</text>
<text transform="translate(74,66.24) skewX(-14)" class="s">/</text>
<text transform="translate(80,66.24) scale(0.92,1)" class="t">STADE BRESTOIS 29</text>
<text transform="translate(67.5,73.3) scale(0.92,1)" class="t e">STADE RENNAIS FC</text>
<text transform="translate(74,73.3) skewX(-14)" class="s">/</text>
<text transform="translate(80,73.3) scale(0.92,1)" class="t">PARIS SAINT-GERMAIN</text>
<text transform="translate(67.5,80.37) scale(0.92,1)" class="t e">AS SAINT-ÉTIENNE</text>
<text transform="translate(74,80.37) skewX(-14)" class="s">/</text>
<text transform="translate(80,80.37) scale(0.92,1)" class="t">OLYMPIQUE LYONNAIS</text>
</g>
<g transform="translate(226.9,476)">
<rect x="-1" y="1.65" width="149.2" height="81.85" fill="#fff"/>
<polygon points="-1,-1 49.6,-1 46,2.65 -1,2.65" fill="#fff"/>
<rect x="0" y="2.65" width="147.2" height="79.85" fill="#fff"/>
<rect x="1.7" y="7.5" width="48" height="4.35" fill="#ccd0d8"/>
<rect x="1.7" y="11.85" width="143.8" height="6.57" fill="#ccd0d8"/>
<rect x="1.7" y="25.98" width="143.8" height="6.57" fill="#ccd0d8"/>
<rect x="1.7" y="40.11" width="143.8" height="6.57" fill="#ccd0d8"/>
<rect x="1.7" y="54.24" width="143.8" height="6.57" fill="#ccd0d8"/>
<rect x="1.7" y="68.37" width="143.8" height="6.57" fill="#ccd0d8"/>
<polygon points="40,2.65 147.2,2.65 147.2,11.85 40,11.85" fill="#cefb0a"/>
<rect x="0.4" y="3.05" width="146.4" height="79.05" fill="none" stroke="#3c4966" stroke-width="0.8"/>
<polygon points="0,0 47.8,0 40.4,8.7 0,8.7" fill="#0b1d40"/>
<text x="3.9" y="6.5" class="m">10<tspan dy="-1.6" style="font-size:2.8px">th</tspan><tspan dy="1.6"> Matchday</tspan></text>
<text transform="translate(93.7,9.15) scale(0.93,1)" class="d">SUNDAY 17 OCTOBER 2021</text>
<text transform="translate(67.5,16.78) scale(0.92,1)" class="t e">FC GIRONDINS DE BORDEAUX</text>
<text transform="translate(74,16.78) skewX(-14)" class="s">/</text>
<text transform="translate(80,16.78) scale(0.92,1)" class="t">FC NANTES</text>
<text transform="translate(67.5,23.85) scale(0.92,1)" class="t e">STADE BRESTOIS 29</text>
<text transform="translate(74,23.85) skewX(-14)" class="s">/</text>
<text transform="translate(80,23.85) scale(0.92,1)" class="t">STADE DE REIMS</text>
<text transform="translate(67.5,30.91) scale(0.92,1)" class="t e">CLERMONT FOOT 63</text>
<text transform="translate(74,30.91) skewX(-14)" class="s">/</text>
<text transform="translate(80,30.91) scale(0.92,1)" class="t">LOSC LILLE</text>
<text transform="translate(67.5,37.98) scale(0.92,1)" class="t e">OLYMPIQUE LYONNAIS</text>
<text transform="translate(74,37.98) skewX(-14)" class="s">/</text>
<text transform="translate(80,37.98) scale(0.92,1)" class="t">AS MONACO</text>
<text transform="translate(67.5,45.04) scale(0.92,1)" class="t e">OLYMPIQUE DE MARSEILLE</text>
<text transform="translate(74,45.04) skewX(-14)" class="s">/</text>
<text transform="translate(80,45.04) scale(0.92,1)" class="t">FC LORIENT</text>
<text transform="translate(67.5,52.11) scale(0.92,1)" class="t e">FC METZ</text>
<text transform="translate(74,52.11) skewX(-14)" class="s">/</text>
<text transform="translate(80,52.11) scale(0.92,1)" class="t">STADE RENNAIS FC</text>
<text transform="translate(67.5,59.17) scale(0.92,1)" class="t e">MONTPELLIER HÉRAULT SC</text>
<text transform="translate(74,59.17) skewX(-14)" class="s">/</text>
<text transform="translate(80,59.17) scale(0.92,1)" class="t">RC LENS</text>
<text transform="translate(67.5,66.24) scale(0.92,1)" class="t e">PARIS SAINT-GERMAIN</text>
<text transform="translate(74,66.24) skewX(-14)" class="s">/</text>
<text transform="translate(80,66.24) scale(0.92,1)" class="t">ANGERS SCO</text>
<text transform="translate(67.5,73.3) scale(0.92,1)" class="t e">RC STRASBOURG ALSACE</text>
<text transform="translate(74,73.3) skewX(-14)" class="s">/</text>
<text transform="translate(80,73.3) scale(0.92,1)" class="t">AS SAINT-ÉTIENNE</text>
<text transform="translate(67.5,80.37) scale(0.92,1)" class="t e">ESTAC TROYES</text>
<text transform="translate(74,80.37) skewX(-14)" class="s">/</text>
<text transform="translate(80,80.37) scale(0.92,1)" class="t">OGC NICE</text>
</g>
<g transform="translate(226.9,576)">
<rect x="-1" y="1.65" width="149.2" height="81.85" fill="#fff"/>
<polygon points="-1,-1 49.6,-1 46,2.65 -1,2.65" fill="#fff"/>
<rect x="0" y="2.65" width="147.2" height="79.85" fill="#fff"/>
<rect x="1.7" y="7.5" width="48" height="4.35" fill="#ccd0d8"/>
<rect x="1.7" y="11.85" width="143.8" height="6.57" fill="#ccd0d8"/>
<rect x="1.7" y="25.98" width="143.8" height="6.57" fill="#ccd0d8"/>
<rect x="1.7" y="40.11" width="143.8" height="6.57" fill="#ccd0d8"/>
<rect x="1.7" y="54.24" width="143.8" height="6.57" fill="#ccd0d8"/>
<polygon points="40,2.65 147.2,2.65 147.2,11.85 40,11.85" fill="#cefb0a"/>
<rect x="0.4" y="3.05" width="146.4" height="79.05" fill="none" stroke="#3c4966" stroke-width="0.8"/>
<polygon points="0,0 47.8,0 40.4,8.7 0,8.7" fill="#0b1d40"/>
<text x="3.9" y="6.5" class="m">11<tspan dy="-1.6" style="font-size:2.8px">th</tspan><tspan dy="1.6"> Matchday</tspan></text>
<text transform="translate(93.7,9.15) scale(0.93,1)" class="d">SUNDAY 24 OCTOBER 2021</text>
<text transform="translate(67.5,16.78) scale(0.92,1)" class="t e">RC LENS</text>
<text transform="translate(74,16.78) skewX(-14)" class="s">/</text>
<text transform="translate(80,16.78) scale(0.92,1)" class="t">FC METZ</text>
<text transform="translate(67.5,23.85) scale(0.92,1)" class="t e">LOSC LILLE</text>
<text transform="translate(74,23.85) skewX(-14)" class="s">/</text>
<text transform="translate(80,23.85) scale(0.92,1)" class="t">STADE BRESTOIS 29</text>
<text transform="translate(67.5,30.91) scale(0.92,1)" class="t e">FC LORIENT</text>
<text transform="translate(74,30.91) skewX(-14)" class="s">/</text>
<text transform="translate(80,30.91) scale(0.92,1)" class="t">FC GIRONDINS DE BORDEAUX</text>
<text transform="translate(67.5,37.98) scale(0.92,1)" class="t e">OLYMPIQUE DE MARSEILLE</text>
<text transform="translate(74,37.98) skewX(-14)" class="s">/</text>
<text transform="translate(80,37.98) scale(0.92,1)" class="t">PARIS SAINT-GERMAIN</text>
<text transform="translate(67.5,45.04) scale(0.92,1)" class="t e">AS MONACO</text>
<text transform="translate(74,45.04) skewX(-14)" class="s">/</text>
<text transform="translate(80,45.04) scale(0.92,1)" class="t">MONTPELLIER HÉRAULT SC</text>
<text transform="translate(67.5,52.11) scale(0.92,1)" class="t e">FC NANTES</text>
<text transform="translate(74,52.11) skewX(-14)" class="s">/</text>
<text transform="translate(80,52.11) scale(0.92,1)" class="t">CLERMONT FOOT 63</text>
<text transform="translate(67.5,59.17) scale(0.92,1)" class="t e">OGC NICE</text>
<text transform="translate(74,59.17) skewX(-14)" class="s">/</text>
<text transform="translate(80,59.17) scale(0.92,1)" class="t">OLYMPIQUE LYONNAIS</text>
<text transform="translate(67.5,66.24) scale(0.92,1)" class="t e">STADE DE REIMS</text>
<text transform="translate(74,66.24) skewX(-14)" class="s">/</text>
<text transform="translate(80,66.24) scale(0.92,1)" class="t">ESTAC TROYES</text>
<text transform="translate(67.5,73.3) scale(0.92,1)" class="t e">STADE RENNAIS FC</text>
<text transform="translate(74,73.3) skewX(-14)" class="s">/</text>
<text transform="translate(80,73.3) scale(0.92,1)" class="t">RC STRASBOURG ALSACE</text>
<text transform="translate(67.5,80.37) scale(0.92,1)" class="t e">AS SAINT-ÉTIENNE</text>
<text transform="translate(74,80.37) skewX(-14)" class="s">/</text>
<text transform="translate(80,80.37) scale(0.92,1)" class="t">ANGERS SCO</text>
</g>
<g transform="translate(226.9,676)">
<rect x="-1" y="1.65" width="149.2" height="81.85" fill="#fff"/>
<polygon points="-1,-1 49.6,-1 46,2.65 -1,2.65" fill="#fff"/>
<rect x="0" y="2.65" width="147.2" height="79.85" fill="#fff"/>
<rect x="1.7" y="7.5" width="48" height="4.35" fill="#ccd0d8"/>
<rect x="1.7" y="11.85" width="143.8" height="6.57" fill="#ccd0d8"/>
<rect x="1.7" y="25.98" width="143.8" height="6.57" fill="#ccd0d8"/>
<rect x="1.7" y="40.11" width="143.8" height="6.57" fill="#ccd0d8"/>
<rect x="1.7" y="54.24" width="143.8" height="6.57" fill="#ccd0d8"/>
<rect x="1.7" y="68.37" width="143.8" height="6.57" fill="#ccd0d8"/>
<polygon points="40,2.65 147.2,2.65 147.2,11.85 40,11.85" fill="#cefb0a"/>
<rect x="0.4" y="3.05" width="146.4" height="79.05" fill="none" stroke="#3c4966" stroke-width="0.8"/>
<polygon points="0,0 47.8,0 40.4,8.7 0,8.7" fill="#0b1d40"/>
<text x="3.9" y="6.5" class="m">12<tspan dy="-1.6" style="font-size:2.8px">th</tspan><tspan dy="1.6"> Matchday</tspan></text>
<text transform="translate(93.7,9.15) scale(0.93,1)" class="d">SUNDAY 31 OCTOBER 2021</text>
<text transform="translate(67.5,16.78) scale(0.92,1)" class="t e">ANGERS SCO</text>
<text transform="translate(74,16.78) skewX(-14)" class="s">/</text>
<text transform="translate(80,16.78) scale(0.92,1)" class="t">OGC NICE</text>
<text transform="translate(67.5,23.85) scale(0.92,1)" class="t e">FC GIRONDINS DE BORDEAUX</text>
<text transform="translate(74,23.85) skewX(-14)" class="s">/</text>
<text transform="translate(80,23.85) scale(0.92,1)" class="t">STADE DE REIMS</text>
<text transform="translate(67.5,30.91) scale(0.92,1)" class="t e">STADE BRESTOIS 29</text>
<text transform="translate(74,30.91) skewX(-14)" class="s">/</text>
<text transform="translate(80,30.91) scale(0.92,1)" class="t">AS MONACO</text>
<text transform="translate(67.5,37.98) scale(0.92,1)" class="t e">CLERMONT FOOT 63</text>
<text transform="translate(74,37.98) skewX(-14)" class="s">/</text>
<text transform="translate(80,37.98) scale(0.92,1)" class="t">OLYMPIQUE DE MARSEILLE</text>
<text transform="translate(67.5,45.04) scale(0.92,1)" class="t e">OLYMPIQUE LYONNAIS</text>
<text transform="translate(74,45.04) skewX(-14)" class="s">/</text>
<text transform="translate(80,45.04) scale(0.92,1)" class="t">RC LENS</text>
<text transform="translate(67.5,52.11) scale(0.92,1)" class="t e">FC METZ</text>
<text transform="translate(74,52.11) skewX(-14)" class="s">/</text>
<text transform="translate(80,52.11) scale(0.92,1)" class="t">AS SAINT-ÉTIENNE</text>
<text transform="translate(67.5,59.17) scale(0.92,1)" class="t e">MONTPELLIER HÉRAULT SC</text>
<text transform="translate(74,59.17) skewX(-14)" class="s">/</text>
<text transform="translate(80,59.17) scale(0.92,1)" class="t">FC NANTES</text>
<text transform="translate(67.5,66.24) scale(0.92,1)" class="t e">PARIS SAINT-GERMAIN</text>
<text transform="translate(74,66.24) skewX(-14)" class="s">/</text>
<text transform="translate(80,66.24) scale(0.92,1)" class="t">LOSC LILLE</text>
<text transform="translate(67.5,73.3) scale(0.92,1)" class="t e">RC STRASBOURG ALSACE</text>
<text transform="translate(74,73.3) skewX(-14)" class="s">/</text>
<text transform="translate(80,73.3) scale(0.92,1)" class="t">FC LORIENT</text>
<text transform="translate(67.5,80.37) scale(0.92,1)" class="t e">ESTAC TROYES</text>
<text transform="translate(74,80.37) skewX(-14)" class="s">/</text>
<text transform="translate(80,80.37) scale(0.92,1)" class="t">STADE RENNAIS FC</text>
</g>
<g transform="translate(392.9,76)">
<rect x="-1" y="1.65" width="149.5" height="81.85" fill="#fff"/>
<polygon points="-1,-1 49.6,-1 46,2.65 -1,2.65" fill="#fff"/>
<rect x="0" y="2.65" width="147.5" height="79.85" fill="#fff"/>
<rect x="1.7" y="7.5" width="48" height="4.35" fill="#ccd0d8"/>
<rect x="1.7" y="11.85" width="144.1" height="6.57" fill="#ccd0d8"/>
<rect x="1.7" y="25.98" width="144.1" height="6.57" fill="#ccd0d8"/>
<rect x="1.7" y="40.11" width="144.1" height="6.57" fill="#ccd0d8"/>
<rect x="1.7" y="54.24" width="144.1" height="6.57" fill="#ccd0d8"/>
<rect x="1.7" y="68.37" width="144.1" height="6.57" fill="#ccd0d8"/>
<polygon points="40,2.65 147.5,2.65 147.5,11.85 40,11.85" fill="#cefb0a"/>
<rect x="0.4" y="3.05" width="146.7" height="79.05" fill="none" stroke="#3c4966" stroke-width="0.8"/>
<polygon points="0,0 47.8,0 40.4,8.7 0,8.7" fill="#0b1d40"/>
<text x="3.9" y="6.5" class="m">13<tspan dy="-1.6" style="font-size:2.8px">th</tspan><tspan dy="1.6"> Matchday</tspan></text>
<text transform="translate(93.7,9.15) scale(0.93,1)" class="d">SUNDAY 7 NOVEMBER 2021</text>
<text transform="translate(67.5,16.78) scale(0.92,1)" class="t e">FC GIRONDINS DE BORDEAUX</text>
<text transform="translate(74,16.78) skewX(-14)" class="s">/</text>
<text transform="translate(80,16.78) scale(0.92,1)" class="t">PARIS SAINT-GERMAIN</text>
<text transform="translate(67.5,23.85) scale(0.92,1)" class="t e">RC LENS</text>
<text transform="translate(74,23.85) skewX(-14)" class="s">/</text>
<text transform="translate(80,23.85) scale(0.92,1)" class="t">ESTAC TROYES</text>
<text transform="translate(67.5,30.91) scale(0.92,1)" class="t e">LOSC LILLE</text>
<text transform="translate(74,30.91) skewX(-14)" class="s">/</text>
<text transform="translate(80,30.91) scale(0.92,1)" class="t">ANGERS SCO</text>
<text transform="translate(67.5,37.98) scale(0.92,1)" class="t e">FC LORIENT</text>
<text transform="translate(74,37.98) skewX(-14)" class="s">/</text>
<text transform="translate(80,37.98) scale(0.92,1)" class="t">STADE BRESTOIS 29</text>
<text transform="translate(67.5,45.04) scale(0.92,1)" class="t e">OLYMPIQUE DE MARSEILLE</text>
<text transform="translate(74,45.04) skewX(-14)" class="s">/</text>
<text transform="translate(80,45.04) scale(0.92,1)" class="t">FC METZ</text>
<text transform="translate(67.5,52.11) scale(0.92,1)" class="t e">FC NANTES</text>
<text transform="translate(74,52.11) skewX(-14)" class="s">/</text>
<text transform="translate(80,52.11) scale(0.92,1)" class="t">RC STRASBOURG ALSACE</text>
<text transform="translate(67.5,59.17) scale(0.92,1)" class="t e">OGC NICE</text>
<text transform="translate(74,59.17) skewX(-14)" class="s">/</text>
<text transform="translate(80,59.17) scale(0.92,1)" class="t">MONTPELLIER HÉRAULT SC</text>
<text transform="translate(67.5,66.24) scale(0.92,1)" class="t e">STADE DE REIMS</text>
<text transform="translate(74,66.24) skewX(-14)" class="s">/</text>
<text transform="translate(80,66.24) scale(0.92,1)" class="t">AS MONACO</text>
<text transform="translate(67.5,73.3) scale(0.92,1)" class="t e">STADE RENNAIS FC</text>
<text transform="translate(74,73.3) skewX(-14)" class="s">/</text>
<text transform="translate(80,73.3) scale(0.92,1)" class="t">OLYMPIQUE LYONNAIS</text>
<text transform="translate(67.5,80.37) scale(0.92,1)" class="t e">AS SAINT-ÉTIENNE</text>
<text transform="translate(74,80.37) skewX(-14)" class="s">/</text>
<text transform="translate(80,80.37) scale(0.92,1)" class="t">CLERMONT FOOT 63</text>
</g>
<g transform="translate(392.9,176)">
<rect x="-1" y="1.65" width="149.5" height="81.85" fill="#fff"/>
<polygon points="-1,-1 49.6,-1 46,2.65 -1,2.65" fill="#fff"/>
<rect x="0" y="2.65" width="147.5" height="79.85" fill="#fff"/>
<rect x="1.7" y="7.5" width="48" height="4.35" fill="#ccd0d8"/>
<rect x="1.7" y="11.85" width="144.1" height="6.57" fill="#ccd0d8"/>
<rect x="1.7" y="25.98" width="144.1" height="6.57" fill="#ccd0d8"/>
<rect x="1.7" y="40.11" width="144.1" height="6.57" fill="#ccd0d8"/>
<rect x="1.7" y="54.24" width="144.1" height="6.57" fill="#ccd0d8"/>
<rect x="1.7" y="68.37" width="144.1" height="6.57" fill="#ccd0d8"/>
<polygon points="40,2.65 147.5,2.65 147.5,11.85 40,11.85" fill="#cefb0a"/>
<rect x="0.4" y="3.05" width="146.7" height="79.05" fill="none" stroke="#3c4966" stroke-width="0.8"/>
<polygon points="0,0 47.8,0 40.4,8.7 0,8.7" fill="#0b1d40"/>
<text x="3.9" y="6.5" class="m">14<tspan dy="-1.6" style="font-size:2.8px">th</tspan><tspan dy="1.6"> Matchday</tspan></text>
<text transform="translate(93.7,9.15) scale(0.93,1)" class="d">SUNDAY 21 NOVEMBER 2021</text>
<text transform="translate(67.5,16.78) scale(0.92,1)" class="t e">ANGERS SCO</text>
<text transform="translate(74,16.78) skewX(-14)" class="s">/</text>
<text transform="translate(80,16.78) scale(0.92,1)" class="t">FC LORIENT</text>
<text transform="translate(67.5,23.85) scale(0.92,1)" class="t e">STADE BRESTOIS 29</text>
<text transform="translate(74,23.85) skewX(-14)" class="s">/</text>
<text transform="translate(80,23.85) scale(0.92,1)" class="t">RC LENS</text>
<text transform="translate(67.5,30.91) scale(0.92,1)" class="t e">CLERMONT FOOT 63</text>
<text transform="translate(74,30.91) skewX(-14)" class="s">/</text>
<text transform="translate(80,30.91) scale(0.92,1)" class="t">OGC NICE</text>
<text transform="translate(67.5,37.98) scale(0.92,1)" class="t e">OLYMPIQUE LYONNAIS</text>
<text transform="translate(74,37.98) skewX(-14)" class="s">/</text>
<text transform="translate(80,37.98) scale(0.92,1)" class="t">OLYMPIQUE DE MARSEILLE</text>
<text transform="translate(67.5,45.04) scale(0.92,1)" class="t e">FC METZ</text>
<text transform="translate(74,45.04) skewX(-14)" class="s">/</text>
<text transform="translate(80,45.04) scale(0.92,1)" class="t">FC GIRONDINS DE BORDEAUX</text>
<text transform="translate(67.5,52.11) scale(0.92,1)" class="t e">AS MONACO</text>
<text transform="translate(74,52.11) skewX(-14)" class="s">/</text>
<text transform="translate(80,52.11) scale(0.92,1)" class="t">LOSC LILLE</text>
<text transform="translate(67.5,59.17) scale(0.92,1)" class="t e">PARIS SAINT-GERMAIN</text>
<text transform="translate(74,59.17) skewX(-14)" class="s">/</text>
<text transform="translate(80,59.17) scale(0.92,1)" class="t">FC NANTES</text>
<text transform="translate(67.5,66.24) scale(0.92,1)" class="t e">STADE RENNAIS FC</text>
<text transform="translate(74,66.24) skewX(-14)" class="s">/</text>
<text transform="translate(80,66.24) scale(0.92,1)" class="t">MONTPELLIER HÉRAULT SC</text>
<text transform="translate(67.5,73.3) scale(0.92,1)" class="t e">RC STRASBOURG ALSACE</text>
<text transform="translate(74,73.3) skewX(-14)" class="s">/</text>
<text transform="translate(80,73.3) scale(0.92,1)" class="t">STADE DE REIMS</text>
<text transform="translate(67.5,80.37) scale(0.92,1)" class="t e">ESTAC TROYES</text>
<text transform="translate(74,80.37) skewX(-14)" class="s">/</text>
<text transform="translate(80,80.37) scale(0.92,1)" class="t">AS SAINT-ÉTIENNE</text>
</g>
<g transform="translate(392.9,276)">
<rect x="-1" y="1.65" width="149.5" height="81.85" fill="#fff"/>
<polygon points="-1,-1 49.6,-1 46,2.65 -1,2.65" fill="#fff"/>
<rect x="0" y="2.65" width="147.5" height="79.85" fill="#fff"/>
<rect x="1.7" y="7.5" width="48" height="4.35" fill="#ccd0d8"/>
<rect x="1.7" y="11.85" width="144.1" height="6.57" fill="#ccd0d8"/>
<rect x="1.7" y="25.98" width="144.1" height="6.57" fill="#ccd0d8"/>
<rect x="1.7" y="40.11" width="144.1" height="6.57" fill="#ccd0d8"/>
<rect x="1.7" y="54.24" width="144.1" height="6.57" fill="#ccd0d8"/>
<rect x="1.7" y="68.37" width="144.1" height="6.57" fill="#ccd0d8"/>
<polygon points="40,2.65 147.5,2.65 147.5,11.85 40,11.85" fill="#cefb0a"/>
<rect x="0.4" y="3.05" width="146.7" height="79.05" fill="none" stroke="#3c4966" stroke-width="0.8"/>
<polygon points="0,0 47.8,0 40.4,8.7 0,8.7" fill="#0b1d40"/>
<text x="3.9" y="6.5" class="m">15<tspan dy="-1.6" style="font-size:2.8px">th</tspan><tspan dy="1.6"> Matchday</tspan></text>
<text transform="translate(93.7,9.15) scale(0.93,1)" class="d">SUNDAY 28 NOVEMBER 2021</text>
<text transform="translate(67.5,16.78) scale(0.92,1)" class="t e">FC GIRONDINS DE BORDEAUX</text>
<text transform="translate(74,16.78) skewX(-14)" class="s">/</text>
<text transform="translate(80,16.78) scale(0.92,1)" class="t">STADE BRESTOIS 29</text>
<text transform="translate(67.5,23.85) scale(0.92,1)" class="t e">RC LENS</text>
<text transform="translate(74,23.85) skewX(-14)" class="s">/</text>
<text transform="translate(80,23.85) scale(0.92,1)" class="t">ANGERS SCO</text>
<text transform="translate(67.5,30.91) scale(0.92,1)" class="t e">LOSC LILLE</text>
<text transform="translate(74,30.91) skewX(-14)" class="s">/</text>
<text transform="translate(80,30.91) scale(0.92,1)" class="t">FC NANTES</text>
<text transform="translate(67.5,37.98) scale(0.92,1)" class="t e">FC LORIENT</text>
<text transform="translate(74,37.98) skewX(-14)" class="s">/</text>
<text transform="translate(80,37.98) scale(0.92,1)" class="t">STADE RENNAIS FC</text>
<text transform="translate(67.5,45.04) scale(0.92,1)" class="t e">OLYMPIQUE DE MARSEILLE</text>
<text transform="translate(74,45.04) skewX(-14)" class="s">/</text>
<text transform="translate(80,45.04) scale(0.92,1)" class="t">ESTAC TROYES</text>
<text transform="translate(67.5,52.11) scale(0.92,1)" class="t e">AS MONACO</text>
<text transform="translate(74,52.11) skewX(-14)" class="s">/</text>
<text transform="translate(80,52.11) scale(0.92,1)" class="t">RC STRASBOURG ALSACE</text>
<text transform="translate(67.5,59.17) scale(0.92,1)" class="t e">MONTPELLIER HÉRAULT SC</text>
<text transform="translate(74,59.17) skewX(-14)" class="s">/</text>
<text transform="translate(80,59.17) scale(0.92,1)" class="t">OLYMPIQUE LYONNAIS</text>
<text transform="translate(67.5,66.24) scale(0.92,1)" class="t e">OGC NICE</text>
<text transform="translate(74,66.24) skewX(-14)" class="s">/</text>
<text transform="translate(80,66.24) scale(0.92,1)" class="t">FC METZ</text>
<text transform="translate(67.5,73.3) scale(0.92,1)" class="t e">STADE DE REIMS</text>
<text transform="translate(74,73.3) skewX(-14)" class="s">/</text>
<text transform="translate(80,73.3) scale(0.92,1)" class="t">CLERMONT FOOT 63</text>
<text transform="translate(67.5,80.37) scale(0.92,1)" class="t e">AS SAINT-ÉTIENNE</text>
<text transform="translate(74,80.37) skewX(-14)" class="s">/</text>
<text transform="translate(80,80.37) scale(0.92,1)" class="t">PARIS SAINT-GERMAIN</text>
</g>
<g transform="translate(392.9,376)">
<rect x="-1" y="1.65" width="149.5" height="81.85" fill="#fff"/>
<polygon points="-1,-1 49.6,-1 46,2.65 -1,2.65" fill="#fff"/>
<rect x="0" y="2.65" width="147.5" height="79.85" fill="#fff"/>
<rect x="1.7" y="40.11" width="144.1" height="6.57" fill="#ccd0d8"/>
<rect x="1.7" y="54.24" width="144.1" height="6.57" fill="#ccd0d8"/>
<rect x="1.7" y="68.37" width="144.1" height="6.57" fill="#ccd0d8"/>
<polygon points="40,2.65 147.5,2.65 147.5,11.85 40,11.85" fill="#cefb0a"/>
<rect x="0.4" y="3.05" width="146.7" height="79.05" fill="none" stroke="#3c4966" stroke-width="0.8"/>
<polygon points="0,0 47.8,0 40.4,8.7 0,8.7" fill="#0b1d40"/>
<text x="3.9" y="6.5" class="m">16<tspan dy="-1.6" style="font-size:2.8px">th</tspan><tspan dy="1.6"> Matchday</tspan></text>
<text transform="translate(93.7,9.15) scale(0.93,1)" class="d">WEDNESDAY 1 DECEMBER 2021</text>
<text transform="translate(67.5,16.78) scale(0.92,1)" class="t e">ANGERS SCO</text>
<text transform="translate(74,16.78) skewX(-14)" class="s">/</text>
<text transform="translate(80,16.78) scale(0.92,1)" class="t">AS MONACO</text>
<text transform="translate(67.5,23.85) scale(0.92,1)" class="t e">STADE BRESTOIS 29</text>
<text transform="translate(74,23.85) skewX(-14)" class="s">/</text>
<text transform="translate(80,23.85) scale(0.92,1)" class="t">AS SAINT-ÉTIENNE</text>
<text transform="translate(67.5,30.91) scale(0.92,1)" class="t e">CLERMONT FOOT 63</text>
<text transform="translate(74,30.91) skewX(-14)" class="s">/</text>
<text transform="translate(80,30.91) scale(0.92,1)" class="t">RC LENS</text>
<text transform="translate(67.5,37.98) scale(0.92,1)" class="t e">OLYMPIQUE LYONNAIS</text>
<text transform="translate(74,37.98) skewX(-14)" class="s">/</text>
<text transform="translate(80,37.98) scale(0.92,1)" class="t">STADE DE REIMS</text>
<text transform="translate(67.5,45.04) scale(0.92,1)" class="t e">FC METZ</text>
<text transform="translate(74,45.04) skewX(-14)" class="s">/</text>
<text transform="translate(80,45.04) scale(0.92,1)" class="t">MONTPELLIER HÉRAULT SC</text>
<text transform="translate(67.5,52.11) scale(0.92,1)" class="t e">FC NANTES</text>
<text transform="translate(74,52.11) skewX(-14)" class="s">/</text>
<text transform="translate(80,52.11) scale(0.92,1)" class="t">OLYMPIQUE DE MARSEILLE</text>
<text transform="translate(67.5,59.17) scale(0.92,1)" class="t e">PARIS SAINT-GERMAIN</text>
<text transform="translate(74,59.17) skewX(-14)" class="s">/</text>
<text transform="translate(80,59.17) scale(0.92,1)" class="t">OGC NICE</text>
<text transform="translate(67.5,66.24) scale(0.92,1)" class="t e">STADE RENNAIS FC</text>
<text transform="translate(74,66.24) skewX(-14)" class="s">/</text>
<text transform="translate(80,66.24) scale(0.92,1)" class="t">LOSC LILLE</text>
<text transform="translate(67.5,73.3) scale(0.92,1)" class="t e">RC STRASBOURG ALSACE</text>
<text transform="translate(74,73.3) skewX(-14)" class="s">/</text>
<text transform="translate(80,73.3) scale(0.92,1)" class="t">FC GIRONDINS DE BORDEAUX</text>
<text transform="translate(67.5,80.37) scale(0.92,1)" class="t e">ESTAC TROYES</text>
<text transform="translate(74,80.37) skewX(-14)" class="s">/</text>
<text transform="translate(80,80.37) scale(0.92,1)" class="t">FC LORIENT</text>
</g>
<g transform="translate(392.9,476)">
<rect x="-1" y="1.65" width="149.5" height="81.85" fill="#fff"/>
<polygon points="-1,-1 49.6,-1 46,2.65 -1,2.65" fill="#fff"/>
<rect x="0" y="2.65" width="147.5" height="79.85" fill="#fff"/>
<rect x="1.7" y="25.98" width="144.1" height="6.57" fill="#ccd0d8"/>
<rect x="1.7" y="40.11" width="144.1" height="6.57" fill="#ccd0d8"/>
<rect x="1.7" y="54.24" width="144.1" height="6.57" fill="#ccd0d8"/>
<rect x="1.7" y="68.37" width="144.1" height="6.57" fill="#ccd0d8"/>
<polygon points="40,2.65 147.5,2.65 147.5,11.85 40,11.85" fill="#cefb0a"/>
<rect x="0.4" y="3.05" width="146.7" height="79.05" fill="none" stroke="#3c4966" stroke-width="0.8"/>
<polygon points="0,0 47.8,0 40.4,8.7 0,8.7" fill="#0b1d40"/>
<text x="3.9" y="6.5" class="m">17<tspan dy="-1.6" style="font-size:2.8px">th</tspan><tspan dy="1.6"> Matchday</tspan></text>
<text transform="translate(93.7,9.15) scale(0.93,1)" class="d">SUNDAY 5 DECEMBER 2021</text>
<text transform="translate(67.5,16.78) scale(0.92,1)" class="t e">FC GIRONDINS DE BORDEAUX</text>
<text transform="translate(74,16.78) skewX(-14)" class="s">/</text>
<text transform="translate(80,16.78) scale(0.92,1)" class="t">OLYMPIQUE LYONNAIS</text>
<text transform="translate(67.5,23.85) scale(0.92,1)" class="t e">RC LENS</text>
<text transform="translate(74,23.85) skewX(-14)" class="s">/</text>
<text transform="translate(80,23.85) scale(0.92,1)" class="t">PARIS SAINT-GERMAIN</text>
<text transform="translate(67.5,30.91) scale(0.92,1)" class="t e">LOSC LILLE</text>
<text transform="translate(74,30.91) skewX(-14)" class="s">/</text>
<text transform="translate(80,30.91) scale(0.92,1)" class="t">ESTAC TROYES</text>
<text transform="translate(67.5,37.98) scale(0.92,1)" class="t e">FC LORIENT</text>
<text transform="translate(74,37.98) skewX(-14)" class="s">/</text>
<text transform="translate(80,37.98) scale(0.92,1)" class="t">FC NANTES</text>
<text transform="translate(67.5,45.04) scale(0.92,1)" class="t e">OLYMPIQUE DE MARSEILLE</text>
<text transform="translate(74,45.04) skewX(-14)" class="s">/</text>
<text transform="translate(80,45.04) scale(0.92,1)" class="t">STADE BRESTOIS 29</text>
<text transform="translate(67.5,52.11) scale(0.92,1)" class="t e">AS MONACO</text>
<text transform="translate(74,52.11) skewX(-14)" class="s">/</text>
<text transform="translate(80,52.11) scale(0.92,1)" class="t">FC METZ</text>
<text transform="translate(67.5,59.17) scale(0.92,1)" class="t e">MONTPELLIER HÉRAULT SC</text>
<text transform="translate(74,59.17) skewX(-14)" class="s">/</text>
<text transform="translate(80,59.17) scale(0.92,1)" class="t">CLERMONT FOOT 63</text>
<text transform="translate(67.5,66.24) scale(0.92,1)" class="t e">OGC NICE</text>
<text transform="translate(74,66.24) skewX(-14)" class="s">/</text>
<text transform="translate(80,66.24) scale(0.92,1)" class="t">RC STRASBOURG ALSACE</text>
<text transform="translate(67.5,73.3) scale(0.92,1)" class="t e">STADE DE REIMS</text>
<text transform="translate(74,73.3) skewX(-14)" class="s">/</text>
<text transform="translate(80,73.3) scale(0.92,1)" class="t">ANGERS SCO</text>
<text transform="translate(67.5,80.37) scale(0.92,1)" class="t e">AS SAINT-ÉTIENNE</text>
<text transform="translate(74,80.37) skewX(-14)" class="s">/</text>
<text transform="translate(80,80.37) scale(0.92,1)" class="t">STADE RENNAIS FC</text>
</g>
<g transform="translate(392.9,576)">
<rect x="-1" y="1.65" width="149.5" height="81.85" fill="#fff"/>
<polygon points="-1,-1 49.6,-1 46,2.65 -1,2.65" fill="#fff"/>
<rect x="0" y="2.65" width="147.5" height="79.85" fill="#fff"/>
<rect x="1.7" y="7.5" width="48" height="4.35" fill="#ccd0d8"/>
<rect x="1.7" y="11.85" width="144.1" height="6.57" fill="#ccd0d8"/>
<rect x="1.7" y="40.11" width="144.1" height="6.57" fill="#ccd0d8"/>
<rect x="1.7" y="54.24" width="144.1" height="6.57" fill="#ccd0d8"/>
<rect x="1.7" y="68.37" width="144.1" height="6.57" fill="#ccd0d8"/>
<rect x="0.4" y="3.05" width="146.7" height="79.05" fill="none" stroke="#3c4966" stroke-width="0.8"/>
<polygon points="0,0 47.8,0 40.4,8.7 0,8.7" fill="#0b1d40"/>
<text x="3.9" y="6.5" class="m">18<tspan dy="-1.6" style="font-size:2.8px">th</tspan><tspan dy="1.6"> Matchday</tspan></text>
<text transform="translate(93.7,9.15) scale(0.93,1)" class="d">SUNDAY 12 DECEMBER 2021</text>
<text transform="translate(67.5,16.78) scale(0.92,1)" class="t e">ANGERS SCO</text>
<text transform="translate(74,16.78) skewX(-14)" class="s">/</text>
<text transform="translate(80,16.78) scale(0.92,1)" class="t">CLERMONT FOOT 63</text>
<text transform="translate(67.5,23.85) scale(0.92,1)" class="t e">STADE BRESTOIS 29</text>
<text transform="translate(74,23.85) skewX(-14)" class="s">/</text>
<text transform="translate(80,23.85) scale(0.92,1)" class="t">MONTPELLIER HÉRAULT SC</text>
<text transform="translate(67.5,30.91) scale(0.92,1)" class="t e">LOSC LILLE</text>
<text transform="translate(74,30.91) skewX(-14)" class="s">/</text>
<text transform="translate(80,30.91) scale(0.92,1)" class="t">OLYMPIQUE LYONNAIS</text>
<text transform="translate(67.5,37.98) scale(0.92,1)" class="t e">FC METZ</text>
<text transform="translate(74,37.98) skewX(-14)" class="s">/</text>
<text transform="translate(80,37.98) scale(0.92,1)" class="t">FC LORIENT</text>
<text transform="translate(67.5,45.04) scale(0.92,1)" class="t e">FC NANTES</text>
<text transform="translate(74,45.04) skewX(-14)" class="s">/</text>
<text transform="translate(80,45.04) scale(0.92,1)" class="t">RC LENS</text>
<text transform="translate(67.5,52.11) scale(0.92,1)" class="t e">PARIS SAINT-GERMAIN</text>
<text transform="translate(74,52.11) skewX(-14)" class="s">/</text>
<text transform="translate(80,52.11) scale(0.92,1)" class="t">AS MONACO</text>
<text transform="translate(67.5,59.17) scale(0.92,1)" class="t e">STADE DE REIMS</text>
<text transform="translate(74,59.17) skewX(-14)" class="s">/</text>
<text transform="translate(80,59.17) scale(0.92,1)" class="t">AS SAINT-ÉTIENNE</text>
<text transform="translate(67.5,66.24) scale(0.92,1)" class="t e">STADE RENNAIS FC</text>
<text transform="translate(74,66.24) skewX(-14)" class="s">/</text>
<text transform="translate(80,66.24) scale(0.92,1)" class="t">OGC NICE</text>
<text transform="translate(67.5,73.3) scale(0.92,1)" class="t e">RC STRASBOURG ALSACE</text>
<text transform="translate(74,73.3) skewX(-14)" class="s">/</text>
<text transform="translate(80,73.3) scale(0.92,1)" class="t">OLYMPIQUE DE MARSEILLE</text>
<text transform="translate(67.5,80.37) scale(0.92,1)" class="t e">ESTAC TROYES</text>
<text transform="translate(74,80.37) skewX(-14)" class="s">/</text>
<text transform="translate(80,80.37) scale(0.92,1)" class="t">FC GIRONDINS DE BORDEAUX</text>
</g>
<g transform="translate(392.9,676)">
<rect x="-1" y="1.65" width="149.5" height="81.85" fill="#fff"/>
<polygon points="-1,-1 49.6,-1 46,2.65 -1,2.65" fill="#fff"/>
<rect x="0" y="2.65" width="147.5" height="79.85" fill="#fff"/>
<rect x="1.7" y="7.5" width="48" height="4.35" fill="#ccd0d8"/>
<rect x="1.7" y="11.85" width="144.1" height="6.57" fill="#ccd0d8"/>
<rect x="1.7" y="25.98" width="144.1" height="6.57" fill="#ccd0d8"/>
<rect x="1.7" y="40.11" width="144.1" height="6.57" fill="#ccd0d8"/>
<rect x="1.7" y="54.24" width="144.1" height="6.57" fill="#ccd0d8"/>
<rect x="1.7" y="68.37" width="144.1" height="6.57" fill="#ccd0d8"/>
<polygon points="40,2.65 147.5,2.65 147.5,11.85 40,11.85" fill="#cefb0a"/>
<rect x="0.4" y="3.05" width="146.7" height="79.05" fill="none" stroke="#3c4966" stroke-width="0.8"/>
<polygon points="0,0 47.8,0 40.4,8.7 0,8.7" fill="#0b1d40"/>
<text x="3.9" y="6.5" class="m">19<tspan dy="-1.6" style="font-size:2.8px">th</tspan><tspan dy="1.6"> Matchday</tspan></text>
<text transform="translate(93.7,9.15) scale(0.93,1)" class="d">WEDNESDAY 22 DECEMBER 2021</text>
<text transform="translate(67.5,16.78) scale(0.92,1)" class="t e">FC GIRONDINS DE BORDEAUX</text>
<text transform="translate(74,16.78) skewX(-14)" class="s">/</text>
<text transform="translate(80,16.78) scale(0.92,1)" class="t">LOSC LILLE</text>
<text transform="translate(67.5,23.85) scale(0.92,1)" class="t e">CLERMONT FOOT 63</text>
<text transform="translate(74,23.85) skewX(-14)" class="s">/</text>
<text transform="translate(80,23.85) scale(0.92,1)" class="t">RC STRASBOURG ALSACE</text>
<text transform="translate(67.5,30.91) scale(0.92,1)" class="t e">FC LORIENT</text>
<text transform="translate(74,30.91) skewX(-14)" class="s">/</text>
<text transform="translate(80,30.91) scale(0.92,1)" class="t">PARIS SAINT-GERMAIN</text>
<text transform="translate(67.5,37.98) scale(0.92,1)" class="t e">OLYMPIQUE LYONNAIS</text>
<text transform="translate(74,37.98) skewX(-14)" class="s">/</text>
<text transform="translate(80,37.98) scale(0.92,1)" class="t">FC METZ</text>
<text transform="translate(67.5,45.04) scale(0.92,1)" class="t e">OLYMPIQUE DE MARSEILLE</text>
<text transform="translate(74,45.04) skewX(-14)" class="s">/</text>
<text transform="translate(80,45.04) scale(0.92,1)" class="t">STADE DE REIMS</text>
<text transform="translate(67.5,52.11) scale(0.92,1)" class="t e">AS MONACO</text>
<text transform="translate(74,52.11) skewX(-14)" class="s">/</text>
<text transform="translate(80,52.11) scale(0.92,1)" class="t">STADE RENNAIS FC</text>
<text transform="translate(67.5,59.17) scale(0.92,1)" class="t e">MONTPELLIER HÉRAULT SC</text>
<text transform="translate(74,59.17) skewX(-14)" class="s">/</text>
<text transform="translate(80,59.17) scale(0.92,1)" class="t">ANGERS SCO</text>
<text transform="translate(67.5,66.24) scale(0.92,1)" class="t e">OGC NICE</text>
<text transform="translate(74,66.24) skewX(-14)" class="s">/</text>
<text transform="translate(80,66.24) scale(0.92,1)" class="t">RC LENS</text>
<text transform="translate(67.5,73.3) scale(0.92,1)" class="t e">AS SAINT-ÉTIENNE</text>
<text transform="translate(74,73.3) skewX(-14)" class="s">/</text>
<text transform="translate(80,73.3) scale(0.92,1)" class="t">FC NANTES</text>
<text transform="translate(67.5,80.37) scale(0.92,1)" class="t e">ESTAC TROYES</text>
<text transform="translate(74,80.37) skewX(-14)" class="s">/</text>
<text transform="translate(80,80.37) scale(0.92,1)" class="t">STADE BRESTOIS 29</text>
</g>
</svg></body></html>
